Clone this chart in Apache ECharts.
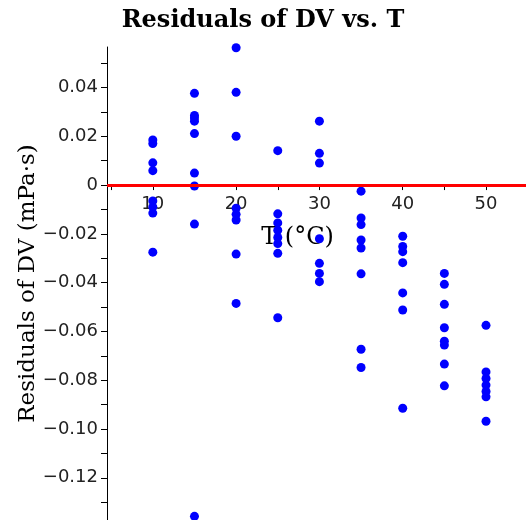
<!DOCTYPE html>
<html>
<head>
<meta charset="utf-8">
<script src="https://cdn.jsdelivr.net/npm/echarts@6/dist/echarts.min.js"></script>
<style>
html,body{margin:0;padding:0;background:#fff;}
#chart{width:526px;height:520px;}
</style>
</head>
<body>
<div id="chart"></div>
<script>
// Temperatures (°C) at which residuals were measured
const temps = [10, 15, 20, 25, 30, 35, 40, 45, 50];
// Residuals of DV (mPa·s) per temperature
const res10 = [0.0185, 0.0170, 0.0091, 0.0059, -0.0065, -0.0090, -0.0115, -0.0275];
const res15 = [0.0376, 0.0285, 0.0275, 0.0262, 0.0211, 0.0049, -0.0004, -0.0160, -0.1358];
const res20 = [0.0563, 0.0380, 0.0200, -0.0095, -0.0120, -0.0143, -0.0283, -0.0485];
const res25 = [0.0141, -0.0118, -0.0155, -0.0185, -0.0215, -0.0240, -0.0280, -0.0544];
const res30 = [0.0262, 0.0130, 0.0090, -0.0220, -0.0321, -0.0362, -0.0396];
const res35 = [-0.0025, -0.0135, -0.0162, -0.0225, -0.0258, -0.0364, -0.0673, -0.0748];
const res40 = [-0.0210, -0.0252, -0.0273, -0.0318, -0.0442, -0.0512, -0.0915];
const res45 = [-0.0362, -0.0407, -0.0489, -0.0585, -0.0640, -0.0656, -0.0734, -0.0823];
const res50 = [-0.0575, -0.0766, -0.0793, -0.0820, -0.0846, -0.0868, -0.0968];
const residualsByTemp = [res10, res15, res20, res25, res30, res35, res40, res45, res50];

// Axis ranges and tick values
const xMin = 4.5, xMax = 54.8;
const yMin = -0.1373, yMax = 0.0566;
const xTickValues = [5, 10, 15, 20, 25, 30, 35, 40, 45, 50];
const xLabelValues = [10, 20, 30, 40, 50];
const yTickValues = [-0.13, -0.12, -0.11, -0.10, -0.09, -0.08, -0.07, -0.06, -0.05, -0.04, -0.03, -0.02, -0.01, 0, 0.01, 0.02, 0.03, 0.04, 0.05];
const yLabelValues = [-0.12, -0.10, -0.08, -0.06, -0.04, -0.02, 0, 0.02, 0.04];

const points = [];
temps.forEach((t, i) => residualsByTemp[i].forEach(r => points.push([t, r])));

const W = 526, H = 520;
const gridTop = 47, gridBottom = 0, gridLeft = 107;
const gridH = H - gridTop - gridBottom;
// place the x axis on y = 0 (offset from grid bottom, negative moves up)
const zeroFromBottom = (0 - yMin) / (yMax - yMin) * gridH;

const chart = echarts.init(document.getElementById('chart'), null, {renderer: 'canvas'});
chart.setOption({
  animation: false,
  backgroundColor: '#ffffff',
  title: {
    text: 'Residuals of DV vs. T',
    left: 'center',
    top: 4,
    textStyle: {fontFamily: 'DejaVu Serif', fontWeight: 'bold', fontSize: 24, color: '#000'}
  },
  grid: {left: gridLeft, right: 0, top: gridTop, bottom: gridBottom, containLabel: false, outerBoundsMode: 'none'},
  xAxis: {
    type: 'value',
    min: xMin,
    max: xMax,
    position: 'bottom',
    offset: -zeroFromBottom,
    name: 'T (°C)',
    nameLocation: 'middle',
    nameGap: 41,
    nameMoveOverlap: false,
    nameTextStyle: {fontFamily: 'DejaVu Serif', fontSize: 24, color: '#000', padding: [0, 38, 0, 0]},
    axisLine: {onZero: false, lineStyle: {color: '#000', width: 1}},
    axisTick: {show: true, customValues: xTickValues, length: 5, lineStyle: {color: '#000'}},
    axisLabel: {customValues: xLabelValues, margin: 10, fontFamily: 'DejaVu Sans', fontSize: 18, color: '#222'},
    splitLine: {show: false}
  },
  yAxis: {
    type: 'value',
    min: yMin,
    max: yMax,
    name: 'Residuals of DV (mPa·s)',
    nameLocation: 'middle',
    nameRotate: 90,
    nameGap: 67,
    nameMoveOverlap: false,
    nameTextStyle: {fontFamily: 'DejaVu Serif', fontSize: 23, color: '#000'},
    axisLine: {onZero: false, lineStyle: {color: '#000', width: 1}},
    axisTick: {show: true, customValues: yTickValues, length: 6, lineStyle: {color: '#000'}},
    axisLabel: {
      customValues: yLabelValues, margin: 9, fontFamily: 'DejaVu Sans', fontSize: 18, color: '#222',
      formatter: v => Math.abs(v) < 1e-9 ? '0' : (v < 0 ? '\u2212' : '') + Math.abs(v).toFixed(2)
    },
    splitLine: {show: false}
  },
  series: [{
    type: 'scatter',
    data: points,
    symbol: 'circle',
    symbolSize: 9,
    itemStyle: {color: '#0000ff', opacity: 1},
    clip: false,
    z: 3,
    markLine: {
      silent: true,
      symbol: 'none',
      label: {show: false},
      lineStyle: {color: '#ff0000', width: 3, type: 'solid'},
      data: [{yAxis: 0}]
    }
  }]
});
</script>
</body>
</html>
